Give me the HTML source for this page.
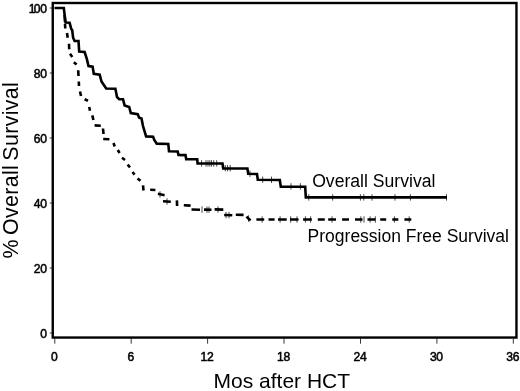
<!DOCTYPE html>
<html><head><meta charset="utf-8"><title>Survival</title>
<style>
html,body{margin:0;padding:0;background:#fff;}
body{width:520px;height:391px;overflow:hidden;position:relative;font-family:"Liberation Sans",sans-serif;color:#000;}
svg{will-change:transform;filter:grayscale(1);position:absolute;left:0;top:0;display:block}
text{font-family:"Liberation Sans",sans-serif;fill:#000;stroke:#000;stroke-width:0}
.tk{font-size:11.5px;letter-spacing:-0.65px;stroke-width:0.5px}
.tx{font-size:12.1px;letter-spacing:-0.35px;stroke-width:0.5px}
</style></head><body>
<svg width="520" height="391" viewBox="0 0 520 391">
<rect x="0" y="0" width="520" height="391" fill="#fff"/>
<rect x="52.75" y="3.0" width="463.7" height="334.55" fill="none" stroke="#000" stroke-width="2.4"/>
<line x1="49.8" y1="333.0" x2="52" y2="333.0" stroke="#222" stroke-width="0.9"/>
<text class="tx" x="46.6" y="337.9" text-anchor="end">0</text>
<line x1="49.8" y1="268.0" x2="52" y2="268.0" stroke="#222" stroke-width="0.9"/>
<text class="tx" x="46.6" y="272.9" text-anchor="end">20</text>
<line x1="49.8" y1="203.0" x2="52" y2="203.0" stroke="#222" stroke-width="0.9"/>
<text class="tx" x="46.6" y="207.9" text-anchor="end">40</text>
<line x1="49.8" y1="138.0" x2="52" y2="138.0" stroke="#222" stroke-width="0.9"/>
<text class="tx" x="46.6" y="142.9" text-anchor="end">60</text>
<line x1="49.8" y1="73.0" x2="52" y2="73.0" stroke="#222" stroke-width="0.9"/>
<text class="tx" x="46.6" y="77.9" text-anchor="end">80</text>
<line x1="49.8" y1="8.0" x2="52" y2="8.0" stroke="#222" stroke-width="0.9"/>
<text class="tx" x="46.6" y="12.9" text-anchor="end">1<tspan dx="-1.3">00</tspan></text>
<line x1="54.8" y1="338" x2="54.8" y2="343.7" stroke="#222" stroke-width="0.9"/>
<text class="tx" x="54.2" y="360.5" text-anchor="middle">0</text>
<line x1="131.2" y1="338" x2="131.2" y2="343.7" stroke="#222" stroke-width="0.9"/>
<text class="tx" x="130.6" y="360.5" text-anchor="middle">6</text>
<line x1="207.6" y1="338" x2="207.6" y2="343.7" stroke="#222" stroke-width="0.9"/>
<text class="tx" x="207.0" y="360.5" text-anchor="middle">12</text>
<line x1="284.0" y1="338" x2="284.0" y2="343.7" stroke="#222" stroke-width="0.9"/>
<text class="tx" x="283.4" y="360.5" text-anchor="middle">18</text>
<line x1="360.5" y1="338" x2="360.5" y2="343.7" stroke="#222" stroke-width="0.9"/>
<text class="tx" x="359.9" y="360.5" text-anchor="middle">24</text>
<line x1="436.9" y1="338" x2="436.9" y2="343.7" stroke="#222" stroke-width="0.9"/>
<text class="tx" x="436.3" y="360.5" text-anchor="middle">30</text>
<line x1="513.3" y1="338" x2="513.3" y2="343.7" stroke="#222" stroke-width="0.9"/>
<text class="tx" x="512.7" y="360.5" text-anchor="middle">36</text>
<polyline points="54.5,8 63.8,8 65.6,22.5 69.6,22.8 71.3,29 72.2,30 73.1,37.7 74.6,41 78.5,41 79.2,51.5 84.6,52 86.9,59.2 88.5,66 92.6,66.6 93.8,73.8 99.7,74.6 101.5,81.5 106.2,88.5 115.4,88.8 117,97 119.2,99.2 123,99.2 124.6,105.4 129.2,107 130.8,113 137.7,114.2 139.2,117.7 141.5,118.5 143,126 146.1,136.4 153.1,136.8 154.4,140.2 156.7,143.6 168.3,144 169,151.3 177.7,151.5 178.5,154.9 185.5,155.1 186.2,159.1 197.2,159.2 197.6,163.4 222.5,163.5 223.2,168.4 247.4,168.5 248.2,173.8 257,174 257.8,179.8 279.8,180 280.8,186.6 305.2,186.7 305.8,197.4 447,197.4" fill="none" stroke="#000" stroke-width="2.6" stroke-linejoin="miter"/>
<path d="M64.6,15L65,22 M65,24L65.3,28.5 M67,33L67.7,37.7 M69,43.8L69.2,49.2 M70,53.8L72.3,57 M73.8,62.3L76.6,64.6 M78.2,70.3L78.5,76 M78.8,81.5L79,86 M80,91.5L81,96 M84.6,99.2L88,100.8 M89.2,107L90,110.8 M92.3,115.4L93.4,120 M94.6,125.4L100.8,125.7 M103,128.5L103.5,134 M103.2,139L109.4,139.3 M113.5,143L114.7,146.5 M117.8,150L119.6,153 M122,157.7L125,160 M127.6,164.6L130,167.4 M132.5,172L134.6,174.6 M137.5,178.4L140.5,180.8 M143,185.4L143.5,190.5 M150.2,189.8L155.4,190 M157.9,193.7L164.6,195.2 M163,201.3L170.8,201.7 M176.9,200.4L177.1,206 M183.8,205.2L190.6,205.6 M191.5,209.5L200,209.7 M204,209.6L211.5,209.8 M214.6,209.4L223.3,209.6 M224.2,215L232.3,215.2 M235.8,214.8L243.6,214.9 M246.5,216.6L250.5,220.5 M256.4,219.5L264.2,219.5 M268.5,219.5L274.6,219.5 M278,219.5L286.7,219.5 M290,219.5L298.5,219.5 M303.1,219.5L311.8,219.5 M317.8,219.5L324.8,219.5 M328.2,219.5L336,219.5 M342.1,219.5L349,219.5 M355,219.5L362.5,219.5 M367.5,219.5L375.5,219.5 M380.2,219.5L386.2,219.5 M392.3,219.5L398.3,219.5 M404.4,219.5L411.3,219.5" fill="none" stroke="#000" stroke-width="2.6"/>
<path d="M201.6,160.20000000000002V166.6 M206,160.20000000000002V166.6 M208,160.20000000000002V166.6 M209.8,160.20000000000002V166.6 M211.5,160.20000000000002V166.6 M213.7,160.20000000000002V166.6 M216.7,160.20000000000002V166.6 M225.3,165.0V171.39999999999998 M227.6,165.0V171.39999999999998 M230.2,165.0V171.39999999999998 M250,170.5V176.89999999999998 M262.7,176.5V182.89999999999998 M271.5,176.60000000000002V183.0 M291,183.20000000000002V189.6 M300.4,183.20000000000002V189.6 M308.8,194.20000000000002V200.6 M332.7,194.20000000000002V200.6 M360.4,194.20000000000002V200.6 M363.8,194.20000000000002V200.6 M372,194.20000000000002V200.6 M395,194.20000000000002V200.6 M410.4,194.20000000000002V200.6 M446.5,194.20000000000002V200.6 M160,191.20000000000002V197.6 M167,198.3V204.7 M202,206.4V212.79999999999998 M207,206.5V212.89999999999998 M209,206.5V212.89999999999998 M218,206.3V212.7 M226,211.9V218.29999999999998 M229,211.9V218.29999999999998 M248.5,215.3V221.7 M262.1,216.3V222.7 M280.1,216.3V222.7 M290.7,216.3V222.7 M297,216.3V222.7 M305.4,216.3V222.7 M310.6,216.3V222.7 M332,216.3V222.7 M360.8,216.3V222.7 M364,216.3V222.7 M370.1,216.3V222.7 M375.3,216.3V222.7 M394.4,216.3V222.7 M409.2,216.3V222.7" fill="none" stroke="#000" stroke-width="0.9" opacity="0.8"/>
<text x="312.2" y="187" font-size="17.6">Overall Survival</text>
<text x="307.6" y="242" font-size="17.5">Progression Free Survival</text>
<text x="281.8" y="387.6" font-size="21" text-anchor="middle">Mos after HCT</text>
<text transform="translate(17.6,258.6) rotate(-90)" font-size="21.4" letter-spacing="0.33" word-spacing="-2">% Overall Survival</text>
</svg>
</body></html>
